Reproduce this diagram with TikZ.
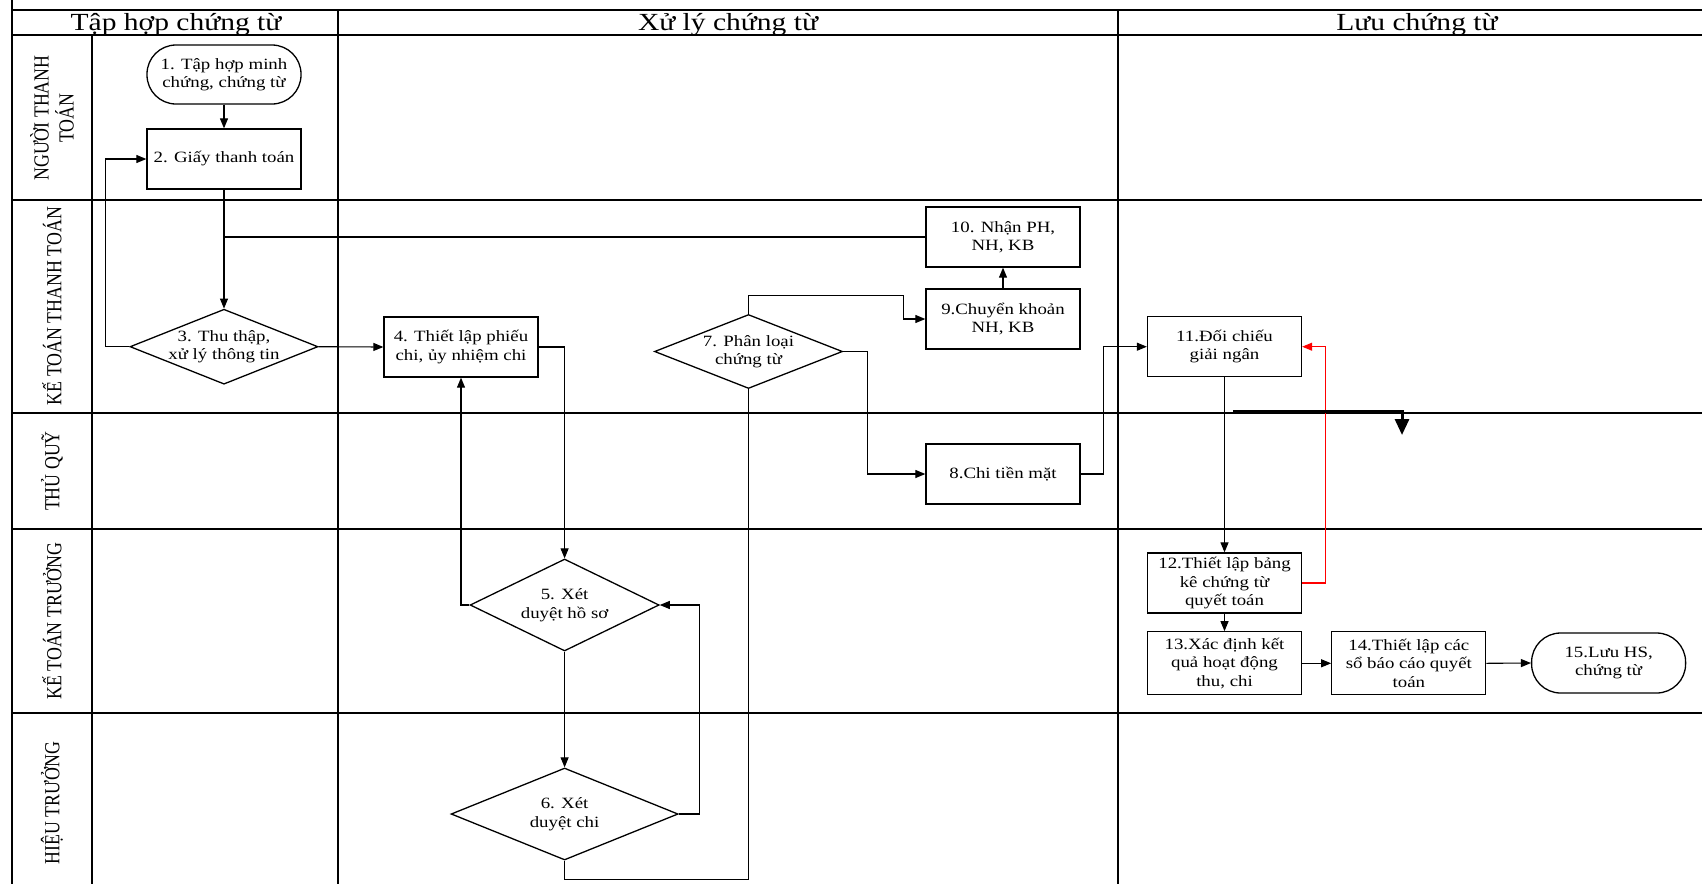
\documentclass[tikz,border=0pt]{standalone}
\usepackage{fontspec}
\setmainfont{Liberation Serif}[FakeStretch=1.2]
\newfontfamily\lanefont{Liberation Serif}[FakeStretch=0.83]
\usetikzlibrary{shapes.geometric, arrows.meta}
\newcommand{\boxfont}{\fontsize{15.7}{18.5}\selectfont}
\newcommand{\headfont}{\fontsize{24.6}{28}\selectfont}
\newcommand{\lanetext}{\lanefont\fontsize{21.5}{25}\selectfont}

\begin{document}
\begin{tikzpicture}[
    x=1pt, y=-1pt,
    font=\boxfont,
    gridline/.style={line width=1.2pt},
    lanerule/.style={line width=2pt},
    proc/.style={draw, line width=1.3pt, minimum width=154pt, minimum height=60pt, inner sep=2pt},
    term/.style={proc, rounded corners=29pt},
    dec/.style={draw, diamond, line width=1.3pt, inner sep=0pt},
    link/.style={line width=1.1pt},
    arrow/.style={link, -{Triangle[length=10pt,width=8pt]}},
    lanelabel/.style={rotate=90, font=\lanetext},
    every node/.style={align=center}
  ]
  \useasboundingbox (0,0) rectangle (1702,884);

  % Swimlane grid
  \draw[lanerule] (12,10) -- (1702,10);
  \draw[lanerule] (12,34.5) -- (1702,34.5);
  \draw[lanerule] (12,200) -- (1702,200);
  \draw[lanerule] (12,412.5) -- (1702,412.5);
  \draw[lanerule] (12,528.5) -- (1702,528.5);
  \draw[lanerule] (12,713) -- (1702,713);
  \draw[lanerule] (12,0) -- (12,884);
  \draw[gridline] (92,34.5) -- (92,884);
  \draw[gridline] (338,10) -- (338,884);
  \draw[gridline] (1118,10) -- (1118,884);

  % Column headers
  \node[font=\headfont, anchor=base] (hdA) at (176,30) {Tập hợp chứng từ};
  \node[font=\headfont, anchor=base] (hdB) at (728,30) {Xử lý chứng từ};
  \node[font=\headfont, anchor=base] (hdC) at (1417,30) {Lưu chứng từ};

  % Lane labels
  \node[lanelabel] (lnA) at (52,118) {NGƯỜI THANH\\TOÁN};
  \node[lanelabel] (lnB) at (52,306) {KẾ TOÁN THANH TOÁN};
  \node[lanelabel] (lnC) at (52,471) {THỦ QUỸ};
  \node[lanelabel] (lnD) at (52,621) {KẾ TOÁN TRƯỞNG};
  \node[lanelabel] (lnE) at (52,803) {HIỆU TRƯỞNG};

  % Steps
  \node[term, minimum height=59pt] (n1) at (224,74.5) {1. Tập hợp minh\\chứng, chứng từ};
  \node[proc] (n2) at (224,159) {2. Giấy thanh toán};
  \node[dec, minimum width=188pt, minimum height=75pt, label={center:{3. Thu thập,\\xử lý thông tin}}] (n3) at (224,346.7) {};
  \node[proc] (n4) at (461,347) {4. Thiết lập phiếu\\chi, ủy nhiệm chi};
  \node[dec, minimum width=189pt, minimum height=92pt, label={center:{5. Xét\\duyệt hồ sơ}}] (n5) at (564.6,605) {};
  \node[dec, minimum width=227pt, minimum height=92pt, label={center:{6. Xét\\duyệt chi}}] (n6) at (564.6,814) {};
  \node[dec, minimum width=188pt, minimum height=74pt, label={center:{7. Phân loại\\chứng từ}}] (n7) at (748.5,351.5) {};
  \node[proc] (n8) at (1003,474) {8.Chi tiền mặt};
  \node[proc] (n9) at (1003,319) {9.Chuyển khoản\\NH, KB};
  \node[proc] (n10) at (1003,237) {10. Nhận PH,\\NH, KB};
  \node[proc] (n11) at (1224.5,346.7) {11.Đối chiếu\\giải ngân};
  \node[proc] (n12) at (1224.5,583) {12.Thiết lập bảng\\kê chứng từ\\quyết toán};
  \node[proc, minimum height=63pt] (n13) at (1224.5,663.3) {13.Xác định kết\\quả hoạt động\\thu, chi};
  \node[proc, minimum height=63pt] (n14) at (1408.8,663.3) {14.Thiết lập các\\sổ báo cáo quyết\\toán};
  \node[term] (n15) at (1608.6,663) {15.Lưu HS,\\chứng từ};

  % Flow
  \draw[arrow] (n1.south) -- (n2.north);
  \draw[arrow] (n2.south) -- (n3.north);
  \draw[link] (n10.west) -- (n10.west -| n2.south);
  \draw[arrow] (n3.west) -- ++(-24,0) |- (n2.west);
  \draw[arrow] (n3.east) -- (n4.west);
  \draw[arrow] (n4.east) -| (n5.north);
  \draw[arrow] (n5.west) -| (n4.south);
  \draw[arrow] (n5.south) -- (n6.north);
  \draw[arrow] (n6.east) -- ++(21,0) |- (n5.east);
  \draw[link] (n6.south) -- ++(0,19) -| (n7.south);
  \draw[arrow] (n7.north) -- ++(0,-18) -| ([xshift=-22pt]n9.west) -- (n9.west);
  \draw[arrow] (n9.north) -- (n10.south);
  \draw[arrow] (n7.east) -- ++(24,0) |- (n8.west);
  \draw[arrow] (n8.east) -- ++(23,0) |- (n11.west);
  \draw[arrow] (n11.south) -- (n12.north);
  \draw[arrow, red] (n12.east) -- ++(23,0) |- (n11.east);
  \draw[arrow] (n12.south) -- (n13.north);
  \draw[arrow] (n13.east) -- (n14.west);
  \draw[arrow] (n14.east) -- (n15.west);

  % Loose thick arrow on the lane border
  \coordinate (strayA) at (1233,411);
  \coordinate (strayB) at (1402,411);
  \draw[line width=3pt, -{Triangle[length=16pt,width=14pt]}] (strayA) -- (strayB) -- ++(0,24);
\end{tikzpicture}
\end{document}
